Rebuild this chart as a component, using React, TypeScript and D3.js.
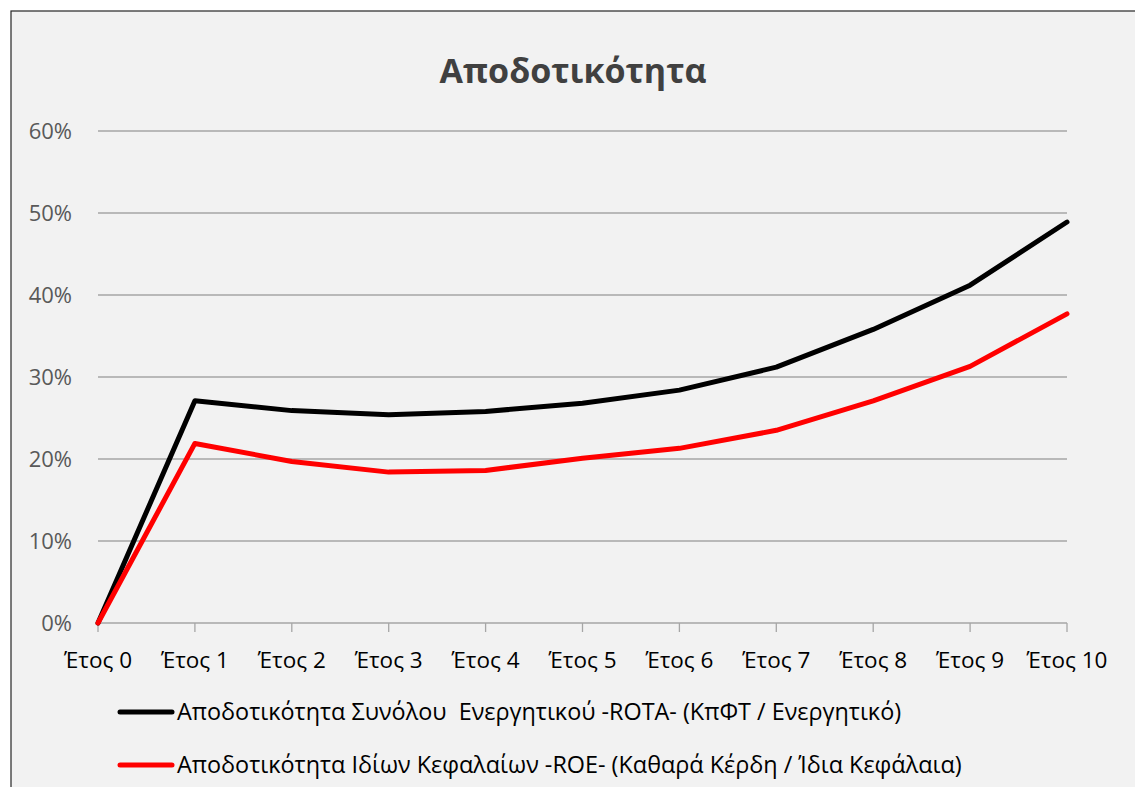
import React, { useEffect, useRef } from "react";
import * as d3 from "d3";

const years = ["Έτος 0", "Έτος 1", "Έτος 2", "Έτος 3", "Έτος 4", "Έτος 5", "Έτος 6", "Έτος 7", "Έτος 8", "Έτος 9", "Έτος 10"];
const rota = [0, 27.1, 25.9, 25.4, 25.8, 26.8, 28.4, 31.2, 35.8, 41.2, 48.9];
const roe = [0, 21.9, 19.7, 18.4, 18.6, 20.1, 21.3, 23.5, 27.1, 31.3, 37.7];
const yTicks = [0, 10, 20, 30, 40, 50, 60];
const seriesNames = [
  "Αποδοτικότητα Συνόλου  Ενεργητικού -ROTA- (ΚπΦΤ / Ενεργητικό)",
  "Αποδοτικότητα Ιδίων Κεφαλαίων -ROE- (Καθαρά Κέρδη / Ίδια Κεφάλαια)",
];
const seriesColors = ["#000000", "#ff0000"];

const W = 1135;
const H = 787;
const FONT = "'Open Sans', 'Noto Sans', sans-serif";

export default function App() {
  const ref = useRef<SVGSVGElement>(null);

  useEffect(() => {
    const svg = d3.select(ref.current);
    svg.selectAll("*").remove();

    svg.append("rect")
      .attr("x", 11).attr("y", 11)
      .attr("width", W + 20).attr("height", H + 20)
      .attr("fill", "#f2f2f2")
      .attr("stroke", "#262626")
      .attr("stroke-width", 1.2);

    svg.append("text")
      .attr("x", 573).attr("y", 83)
      .attr("text-anchor", "middle")
      .attr("font-family", FONT)
      .attr("font-size", 34)
      .attr("font-weight", "bold")
      .attr("fill", "#404040")
      .text("Αποδοτικότητα");

    const x = d3.scalePoint().domain(years).range([98, 1067]);
    const y = d3.scaleLinear().domain([0, 60]).range([623, 131]);

    const g = svg.append("g");

    g.selectAll(".grid")
      .data(yTicks.slice(1))
      .enter().append("line")
      .attr("x1", 98).attr("x2", 1067)
      .attr("y1", (d) => y(d)).attr("y2", (d) => y(d))
      .attr("stroke", "#a6a6a6")
      .attr("stroke-width", 1.3);

    g.selectAll(".ylab")
      .data(yTicks)
      .enter().append("text")
      .attr("x", 72)
      .attr("y", (d) => y(d))
      .attr("dy", "0.35em")
      .attr("text-anchor", "end")
      .attr("font-family", FONT)
      .attr("font-size", 22)
      .attr("fill", "#595959")
      .text((d) => `${d}%`);

    // x axis
    g.append("line")
      .attr("x1", 98).attr("x2", 1067)
      .attr("y1", y(0)).attr("y2", y(0))
      .attr("stroke", "#a6a6a6")
      .attr("stroke-width", 1.3);

    g.selectAll(".xtick")
      .data(years)
      .enter().append("line")
      .attr("x1", (d) => x(d)!).attr("x2", (d) => x(d)!)
      .attr("y1", y(0)).attr("y2", y(0) + 9)
      .attr("stroke", "#a6a6a6")
      .attr("stroke-width", 1.3);

    g.selectAll(".xlab")
      .data(years)
      .enter().append("text")
      .attr("x", (d) => x(d)!)
      .attr("y", 668)
      .attr("text-anchor", "middle")
      .attr("font-family", FONT)
      .attr("font-size", 22.5)
      .attr("fill", "#000000")
      .text((d) => d);

    const line = d3.line<number>()
      .x((_, i) => x(years[i])!)
      .y((d) => y(d));

    [rota, roe].forEach((vals, i) => {
      g.append("path")
        .datum(vals)
        .attr("d", line)
        .attr("fill", "none")
        .attr("stroke", seriesColors[i])
        .attr("stroke-width", 5)
        .attr("stroke-linejoin", "round")
        .attr("stroke-linecap", "round");
    });

    // legend
    seriesNames.forEach((name, i) => {
      const ly = 712 + i * 53;
      svg.append("line")
        .attr("x1", 120).attr("x2", 172)
        .attr("y1", ly).attr("y2", ly)
        .attr("stroke", seriesColors[i])
        .attr("stroke-width", 5)
        .attr("stroke-linecap", "round");
      svg.append("text")
        .attr("x", 177).attr("y", ly)
        .attr("dy", "0.35em")
        .attr("font-family", FONT)
        .attr("font-size", 23.4)
        .attr("fill", "#000000")
        .style("white-space", "pre")
        .text(name);
    });
  }, []);

  return (
    <svg ref={ref} width={W} height={H} style={{ position: "absolute", left: 0, top: 0, display: "block" }} />
  );
}
